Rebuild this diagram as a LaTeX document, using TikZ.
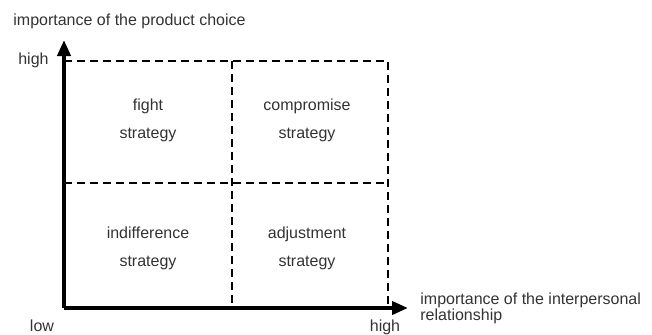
\documentclass[tikz,border=0pt]{standalone}
\usepackage{fontspec}
\setmainfont{Liberation Sans}
\usetikzlibrary{arrows.meta}
\definecolor{txt}{HTML}{333333}
\tikzset{Q/.style={align=center, text=txt, font=\fontsize{8}{14}\selectfont}}
\tikzset{L/.style={text=txt, inner sep=0pt, font=\fontsize{8}{8}\selectfont}}
\tikzset{D/.style={line width=1.2pt, dash pattern=on 4pt off 2.5pt, black}}
\tikzset{A/.style={line width=2pt, -{Triangle[length=8pt,width=6.5pt]}}}

\begin{document}
\begin{tikzpicture}[x=0.5pt,y=0.5pt]
    \useasboundingbox (0,0) rectangle (652,334);
    \coordinate (O) at (64,26);
    \coordinate (Y) at (64,294);
    \coordinate (X) at (408,26);
    % grid of the four cells
    \coordinate (TL) at (64,273);
    \coordinate (TM) at (232,273);
    \coordinate (TR) at (388,273);
    \coordinate (ML) at (64,151);
    \coordinate (MR) at (388,151);
    \coordinate (BM) at (232,26);
    \coordinate (BR) at (388,26);
    \draw[D] (TL) -- (TR) -- (BR);
    \draw[D] (ML) -- (MR);
    \draw[D] (TM) -- (BM);
    % axes
    \draw[A] (O) -- (Y);
    \draw[A] (O) -- (X);
    % cells
    \node[Q] (fight) at (148,214) {fight\\strategy};
    \node[Q] (compromise) at (307,214) {compromise\\strategy};
    \node[Q] (indifference) at (148,86) {indifference\\strategy};
    \node[Q] (adjustment) at (307,86) {adjustment\\strategy};
    % axis labels
    \node[L, anchor=base west] (ytitle) at (13,309) {importance of the product choice};
    \node[L, anchor=base east] (yhigh) at (49,270) {high};
    \node[L, anchor=base] (low) at (42,3) {low};
    \node[L, anchor=base] (xhigh) at (385,3) {high};
    \node[L, anchor=west, align=left] (xtitle) at (420,26) {importance of the interpersonal\\relationship};
\end{tikzpicture}
\end{document}
